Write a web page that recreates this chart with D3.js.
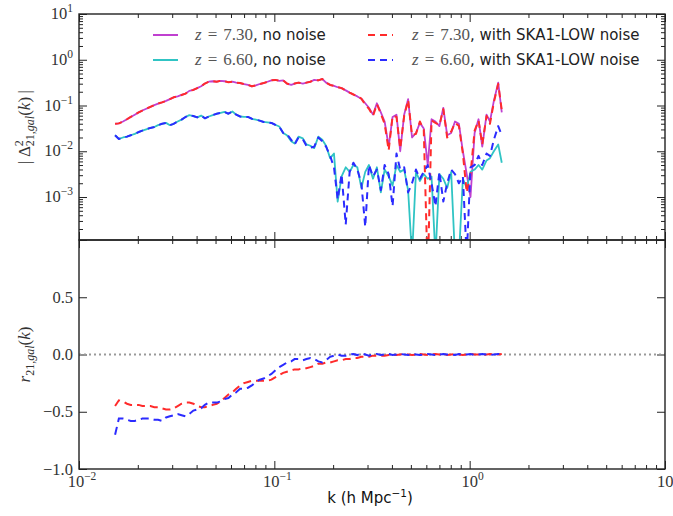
<!DOCTYPE html>
<html><head><meta charset="utf-8">
<script src="https://cdn.jsdelivr.net/npm/d3@7"></script>
<style>body{margin:0;background:#fff}</style>
</head><body><svg id="c" width="673" height="516"></svg>
<script>
// ---------- DATA ----------
const kValues = [0.0153,0.0160,0.0168,0.0176,0.0184,0.0193,0.0202,0.0211,0.0221,0.0232,
0.0243,0.0254,0.0266,0.0279,0.0292,0.0305,0.0320,0.0335,0.0351,0.0367,
0.0385,0.0403,0.0422,0.0441,0.0462,0.0484,0.0507,0.0531,0.0556,0.0582,
0.0610,0.0638,0.0668,0.0700,0.0733,0.0767,0.0804,0.0841,0.0881,0.0923,
0.0966,0.101,0.106,0.111,0.116,0.122,0.127,0.133,0.140,0.146,
0.153,0.160,0.168,0.176,0.184,0.193,0.202,0.211,0.221,0.232,
0.243,0.254,0.266,0.279,0.292,0.305,0.320,0.335,0.351,0.367,
0.385,0.403,0.422,0.441,0.462,0.484,0.507,0.531,0.556,0.582,
0.610,0.638,0.668,0.700,0.733,0.767,0.804,0.841,0.881,0.923,
0.966,1.01,1.06,1.11,1.16,1.22,1.27,1.33,1.40,1.46];

const delta73NoNoise = [0.0398,0.0407,0.0447,0.0501,0.0562,0.0631,0.0708,0.0776,0.0851,0.0933,
0.102,0.110,0.117,0.126,0.138,0.151,0.158,0.170,0.182,0.209,
0.219,0.240,0.263,0.302,0.331,0.339,0.331,0.347,0.339,0.324,
0.331,0.316,0.309,0.295,0.282,0.263,0.275,0.295,0.309,0.331,
0.355,0.363,0.347,0.355,0.302,0.282,0.302,0.316,0.302,0.316,
0.331,0.363,0.355,0.380,0.316,0.282,0.269,0.251,0.240,0.214,
0.191,0.174,0.158,0.141,0.112,0.0891,0.0631,0.112,0.0708,0.0447,
0.0126,0.0562,0.0631,0.0100,0.0631,0.138,0.0200,0.0251,0.0417,0.0316,
0.00501,0.0501,0.0447,0.0355,0.0891,0.0224,0.0251,0.0447,0.0398,0.0100,
0.00316,0.00100,0.0251,0.0501,0.0126,0.0631,0.0447,0.126,0.316,0.0708];

const delta66NoNoise = [0.0224,0.0186,0.0200,0.0209,0.0224,0.0240,0.0263,0.0282,0.0302,0.0324,
0.0339,0.0372,0.0398,0.0417,0.0372,0.0398,0.0447,0.0490,0.0562,0.0617,
0.0589,0.0550,0.0603,0.0525,0.0575,0.0617,0.0661,0.0692,0.0724,0.0661,
0.0741,0.0631,0.0575,0.0562,0.0562,0.0513,0.0490,0.0468,0.0437,0.0427,
0.0417,0.0380,0.0347,0.0251,0.0224,0.0166,0.0148,0.0209,0.0191,0.0141,
0.0132,0.0117,0.0209,0.0178,0.0132,0.00708,0.00891,0.000794,0.00282,0.00447,
0.00355,0.00501,0.00447,0.00158,0.00355,0.00501,0.00251,0.00447,0.00126,0.00398,
0.00282,0.00178,0.00501,0.00355,0.00398,0.00141,0.00005,0.00355,0.00224,0.00316,
0.00251,0.00282,0.00005,0.00316,0.00251,0.00158,0.00355,0.00005,0.00005,0.00251,
0.00158,0.00355,0.00398,0.00501,0.00398,0.00631,0.00708,0.0100,0.0141,0.00562];

const delta73Noise = [0.0398,0.0407,0.0447,0.0501,0.0562,0.0631,0.0708,0.0776,0.0851,0.0933,
0.102,0.110,0.117,0.126,0.138,0.151,0.158,0.170,0.182,0.209,
0.219,0.240,0.263,0.302,0.331,0.339,0.331,0.347,0.339,0.324,
0.331,0.316,0.309,0.295,0.282,0.263,0.275,0.295,0.309,0.331,
0.355,0.363,0.347,0.355,0.302,0.282,0.302,0.316,0.302,0.316,
0.331,0.363,0.355,0.380,0.316,0.282,0.269,0.251,0.240,0.214,
0.191,0.174,0.158,0.141,0.105,0.0851,0.0589,0.107,0.0661,0.0398,
0.0105,0.0589,0.0562,0.0115,0.0589,0.132,0.0224,0.0240,0.0447,0.0295,
0.00002,0.0468,0.0417,0.0372,0.0832,0.0200,0.0269,0.0417,0.0355,0.00891,
0.00126,0.00316,0.0282,0.0468,0.0141,0.0589,0.0398,0.117,0.295,0.0794];

const delta66Noise = [0.0224,0.0186,0.0200,0.0209,0.0224,0.0240,0.0263,0.0282,0.0302,0.0324,
0.0339,0.0372,0.0398,0.0417,0.0372,0.0398,0.0447,0.0490,0.0562,0.0617,
0.0589,0.0550,0.0603,0.0525,0.0575,0.0617,0.0661,0.0692,0.0724,0.0661,
0.0741,0.0631,0.0575,0.0562,0.0562,0.0513,0.0490,0.0468,0.0437,0.0427,
0.0417,0.0380,0.0347,0.0251,0.0240,0.0178,0.0141,0.0200,0.0182,0.0132,
0.0120,0.0126,0.0200,0.0166,0.0126,0.00794,0.00447,0.000891,0.00316,0.000251,
0.00355,0.00562,0.00398,0.00200,0.000224,0.00501,0.00282,0.00398,0.00141,0.00501,
0.00316,0.000631,0.00891,0.00398,0.00447,0.00126,0.00200,0.00398,0.00251,0.00355,
0.00501,0.00200,0.000631,0.00355,0.000794,0.00200,0.00398,0.00316,0.00200,0.00282,
0.00005,0.00447,0.00501,0.00794,0.00501,0.00891,0.00794,0.0178,0.0355,0.0224];

const r73 = [-0.45,-0.40,-0.41,-0.43,-0.44,-0.44,-0.44,-0.45,-0.45,-0.45,
-0.46,-0.46,-0.47,-0.48,-0.48,-0.47,-0.45,-0.43,-0.42,-0.42,
-0.43,-0.45,-0.46,-0.46,-0.45,-0.44,-0.43,-0.41,-0.38,-0.35,
-0.33,-0.30,-0.27,-0.25,-0.24,-0.23,-0.23,-0.23,-0.23,-0.23,
-0.22,-0.20,-0.18,-0.16,-0.15,-0.14,-0.13,-0.13,-0.12,-0.12,
-0.11,-0.10,-0.08,-0.08,-0.07,-0.07,-0.06,-0.05,-0.05,-0.04,
-0.04,-0.03,-0.03,-0.02,-0.02,-0.02,-0.01,-0.01,-0.01,-0.01,
-0.005,0,-0.005,0,0.005,0,-0.005,0,0.005,0,
-0.005,0,0.005,0,0,-0.005,0,0.005,0,-0.005,
0,0.005,0,0,-0.005,0,0.005,0,0,0.005];

const r66 = [-0.70,-0.56,-0.56,-0.57,-0.58,-0.58,-0.57,-0.56,-0.56,-0.56,
-0.57,-0.57,-0.58,-0.55,-0.54,-0.53,-0.52,-0.53,-0.54,-0.52,
-0.49,-0.48,-0.47,-0.44,-0.42,-0.42,-0.42,-0.41,-0.39,-0.38,
-0.35,-0.33,-0.30,-0.30,-0.29,-0.27,-0.24,-0.22,-0.21,-0.19,
-0.17,-0.14,-0.11,-0.09,-0.07,-0.06,-0.04,-0.04,-0.05,-0.04,
-0.03,-0.04,-0.06,-0.07,-0.05,-0.02,-0.01,0,-0.01,-0.01,
0,0.005,-0.005,0.01,0,-0.01,0,0.005,-0.005,0,
0.005,-0.005,0,0.005,0,-0.005,0.005,0,-0.005,0,
0.005,0,-0.005,0,0.005,0,0,-0.005,0.005,0,
0,0.005,-0.005,0,0.005,0,-0.005,0,0.005,0];

const xTickExps = [-2, -1, 0, 1];
const topYTickExps = [1, 0, -1, -2, -3];
const bottomYTicks = [-1.0, -0.5, 0.0, 0.5];
const legendZ = ["7.30", "6.60", "7.30", "6.60"];
const legendSuffix = [", no noise", ", no noise", ", with SKA1-LOW noise", ", with SKA1-LOW noise"];

// ---------- LAYOUT ----------
const L = 79, R = 665, T1 = 14, B1 = 240, T2 = 240, B2 = 469;
const SERIF = "'Liberation Serif','DejaVu Serif',serif";
const SANS = "'DejaVu Sans',sans-serif";
const colM = "#c040d0", colC = "#30c4c4", colR = "#ff2b2b", colB = "#2b2bff";

const svg = d3.select("#c");
const x = d3.scaleLog().domain([0.01, 10]).range([L, R]);
const yTop = d3.scaleLog().domain([1.15e-4, 10]).range([B1, T1]);
const yBot = d3.scaleLinear().domain([-1, 1]).range([B2, T2]);

const defs = svg.append("defs");
defs.append("clipPath").attr("id","clipTop").append("rect").attr("x",L).attr("y",T1).attr("width",R-L).attr("height",B1-T1);
defs.append("clipPath").attr("id","clipBot").append("rect").attr("x",L).attr("y",T2).attr("width",R-L).attr("height",B2-T2);

const xMajor = xTickExps.map(e => Math.pow(10, e));
const xMinor = [];
for (let e = -2; e < 1; e++) for (let m = 2; m <= 9; m++) xMinor.push(m * Math.pow(10, e));
const yTopMajor = topYTickExps.map(e => Math.pow(10, e));
const yTopMinor = [];
for (let e = -4; e < 1; e++) for (let m = 2; m <= 9; m++) { const v = m * Math.pow(10, e); if (v >= 1.15e-4) yTopMinor.push(v); }

function styleAxis(g) {
  g.select(".domain").remove();
  g.selectAll(".tick line").attr("stroke", "#222").attr("stroke-width", 1);
  g.selectAll(".tick text").remove();
}
function addAxis(axisFn, scale, vals, size, tx, ty) {
  svg.append("g").attr("transform", `translate(${tx},${ty})`)
    .call(axisFn(scale).tickValues(vals).tickSize(-size).tickFormat(""))
    .call(styleAxis);
}
[[B1, d3.axisBottom], [T1, d3.axisTop], [B2, d3.axisBottom], [T2, d3.axisTop]].forEach(([yy, fn]) => {
  addAxis(fn, x, xMajor, 8, 0, yy);
  addAxis(fn, x, xMinor, 4, 0, yy);
});
addAxis(d3.axisLeft, yTop, yTopMajor, 8, L, 0);
addAxis(d3.axisLeft, yTop, yTopMinor, 4, L, 0);
addAxis(d3.axisRight, yTop, yTopMajor, 8, R, 0);
addAxis(d3.axisRight, yTop, yTopMinor, 4, R, 0);
const botTicks = [-1, -0.5, 0, 0.5, 1];
addAxis(d3.axisLeft, yBot, botTicks, 8, L, 0);
addAxis(d3.axisRight, yBot, botTicks, 8, R, 0);

// ---------- LINES ----------
const topLine = vals => d3.line().x((d, i) => x(kValues[i])).y(d => yTop(d))(vals);
const botLine = vals => d3.line().x((d, i) => x(kValues[i])).y(d => yBot(d))(vals);

const gTop = svg.append("g").attr("clip-path", "url(#clipTop)");
const series = [
  [delta73NoNoise, colM, null, 1.8],
  [delta66NoNoise, colC, null, 1.8],
  [delta73Noise, colR, "7,5", 2],
  [delta66Noise, colB, "7,5", 2]
];
series.forEach(([vals, col, dash, w]) => {
  gTop.append("path").attr("d", topLine(vals)).attr("fill", "none")
    .attr("stroke", col).attr("stroke-width", w).attr("stroke-linejoin", "round")
    .attr("stroke-dasharray", dash);
});

const gBot = svg.append("g").attr("clip-path", "url(#clipBot)");
gBot.append("line").attr("x1", L).attr("x2", R).attr("y1", yBot(0)).attr("y2", yBot(0))
  .attr("stroke", "#999").attr("stroke-width", 2).attr("stroke-dasharray", "2,3");
[[r73, colR], [r66, colB]].forEach(([vals, col]) => {
  gBot.append("path").attr("d", botLine(vals)).attr("fill", "none")
    .attr("stroke", col).attr("stroke-width", 2).attr("stroke-dasharray", "8,5");
});

[[T1, B1], [T2, B2]].forEach(([a, b]) => {
  svg.append("rect").attr("x", L).attr("y", a).attr("width", R - L).attr("height", b - a)
    .attr("fill", "none").attr("stroke", "#222").attr("stroke-width", 1.4);
});

// ---------- TICK LABELS ----------
function powLabel(xx, yy, exp, anchor) {
  const t = svg.append("text").attr("x", xx).attr("y", yy).attr("text-anchor", anchor)
    .attr("font-family", SERIF).attr("font-size", 16.5).attr("fill", "#333");
  t.append("tspan").text("10");
  t.append("tspan").attr("dy", -7).attr("font-size", 11.5).text(exp < 0 ? "\u2212" + (-exp) : String(exp));
}
xTickExps.forEach(e => powLabel(x(Math.pow(10, e)) + 3, 487, e, "middle"));
topYTickExps.forEach(e => powLabel(73, yTop(Math.pow(10, e)) + 5, e, "end"));
bottomYTicks.forEach(v => {
  svg.append("text").attr("x", 73).attr("y", yBot(v) + 5.5).attr("text-anchor", "end")
    .attr("font-family", SERIF).attr("font-size", 16.5).attr("fill", "#333")
    .text((v < 0 ? "\u2212" : "") + Math.abs(v).toFixed(1));
});

// ---------- AXIS LABELS ----------
const xl = svg.append("text").attr("x", 370).attr("y", 503).attr("text-anchor", "middle")
  .attr("font-family", SANS).attr("font-size", 15).attr("fill", "#111");
xl.append("tspan").text("k (h Mpc");
xl.append("tspan").attr("dy", -6).attr("font-size", 10.5).text("\u22121");
xl.append("tspan").attr("dy", 6).text(")");

const yl1 = svg.append("text").attr("transform", `translate(30,${(T1 + B1) / 2}) rotate(-90)`)
  .attr("text-anchor", "middle").attr("font-family", SERIF).attr("font-size", 17).attr("fill", "#333");
yl1.append("tspan").text("|\u2009\u0394");
yl1.append("tspan").attr("dy", -7).attr("font-size", 12).text("2");
yl1.append("tspan").attr("dx", -6).attr("dy", 11).attr("font-size", 12).text("21,");
yl1.append("tspan").attr("font-size", 12).attr("font-style", "italic").text("gal");
yl1.append("tspan").attr("dy", -4).text("(");
yl1.append("tspan").attr("font-style", "italic").text("k");
yl1.append("tspan").text(")\u2009|");

const yl2 = svg.append("text").attr("transform", `translate(30,${(T2 + B2) / 2}) rotate(-90)`)
  .attr("text-anchor", "middle").attr("font-family", SERIF).attr("font-size", 17).attr("fill", "#333");
yl2.append("tspan").attr("font-style", "italic").text("r");
yl2.append("tspan").attr("dy", 4).attr("font-size", 12).text("21,");
yl2.append("tspan").attr("font-size", 12).attr("font-style", "italic").text("gal");
yl2.append("tspan").attr("dy", -4).text("(");
yl2.append("tspan").attr("font-style", "italic").text("k");
yl2.append("tspan").text(")");

// ---------- LEGEND ----------
const legCols = [colM, colC, colR, colB];
const legDash = [null, null, "7,5", "7,5"];
legendZ.forEach((z, i) => {
  const col = Math.floor(i / 2), row = i % 2;
  const lx = col === 0 ? 153 : 368;
  const tx = col === 0 ? 195 : 412;
  const ly = 35 + row * 25;
  svg.append("line").attr("x1", lx).attr("x2", lx + 25).attr("y1", ly).attr("y2", ly)
    .attr("stroke", legCols[i]).attr("stroke-width", 2).attr("stroke-dasharray", legDash[i]);
  const t = svg.append("text").attr("x", tx).attr("y", ly + 5).attr("fill", "#222");
  t.append("tspan").attr("font-family", SERIF).attr("font-size", 17).attr("font-style", "italic").attr("fill", "#555").text("z");
  t.append("tspan").attr("font-family", SERIF).attr("font-size", 17).attr("dx", 6).attr("fill", "#555").text("=");
  t.append("tspan").attr("font-family", SERIF).attr("font-size", 17).attr("dx", 6).attr("fill", "#555").text(z);
  t.append("tspan").attr("font-family", SANS).attr("font-size", 15).text(legendSuffix[i]);
});
</script></body></html>
